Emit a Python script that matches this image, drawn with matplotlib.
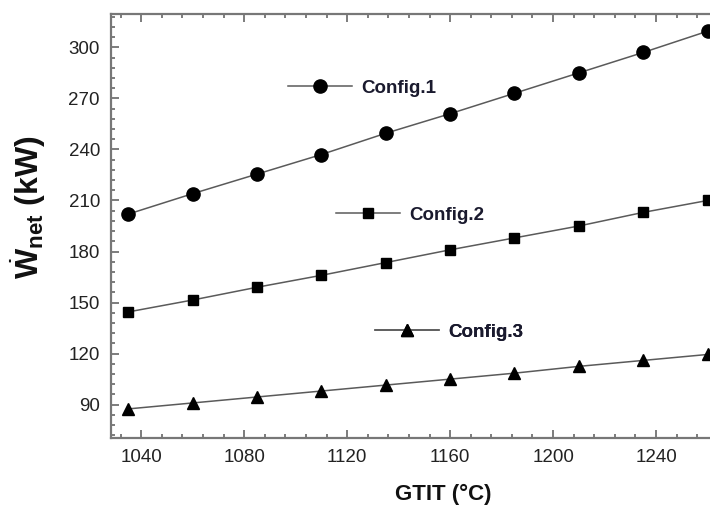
import matplotlib
matplotlib.use("Agg")
import matplotlib.pyplot as plt
from matplotlib.ticker import MultipleLocator
import numpy as np

plt.rcParams['font.family'] = ['Liberation Sans', 'DejaVu Sans']
plt.rcParams['mathtext.fontset'] = 'custom'
plt.rcParams['mathtext.rm'] = 'Liberation Sans'
plt.rcParams['mathtext.bf'] = 'Liberation Sans:bold'

# GTIT (°C)
gtit = [1035, 1060, 1085, 1110, 1135, 1160, 1185, 1210, 1235, 1260]
# net power (kW)
config1 = [202, 214, 225.5, 237, 249.5, 261, 273, 285, 297, 309.5]
config2 = [144.5, 151.5, 159, 166, 173.5, 181, 188, 195, 203, 210]
config3 = [87.5, 91, 94.5, 98, 101.5, 105, 108.5, 112.5, 116, 119.5]
labels = ['Config.1', 'Config.2', 'Config.3']

fig = plt.figure(figsize=(7.1, 5.08), dpi=100)
ax = fig.add_axes([111/710, 70/508, 628/710, 424/508])

line_col = '#5a5a5a'
l1, = ax.plot(gtit, config1, '-o', color=line_col, lw=1.1, mfc='k', mec='k', ms=9.5, clip_on=False)
l2, = ax.plot(gtit, config2, '-s', color=line_col, lw=1.1, mfc='k', mec='k', ms=7.5, clip_on=False)
l3, = ax.plot(gtit, config3, '-^', color=line_col, lw=1.1, mfc='k', mec='k', ms=9, clip_on=False)

ax.set_xlim(1028.3, 1272.2)
ax.set_ylim(70.4, 319.6)
ax.xaxis.set_major_locator(MultipleLocator(40))
ax.xaxis.set_minor_locator(MultipleLocator(8))
ax.yaxis.set_major_locator(MultipleLocator(30))
ax.yaxis.set_minor_locator(MultipleLocator(6))
ax.tick_params(which='both', direction='in', top=True, right=True, colors='#666666',
               labelcolor='#222222', labelsize=13.5, width=1.2)
ax.tick_params(which='major', length=6, pad=8)
ax.tick_params(which='minor', length=3)
for s in ax.spines.values():
    s.set_color('#777777')
    s.set_linewidth(1.6)

ax.set_xlabel('GTIT (°C)', fontsize=16, fontweight='bold', color='#111111')
ax.xaxis.set_label_coords(0.529, -0.108)
ax.set_ylabel(r'$\dot{\mathbf{W}}_{\mathbf{net}}$ (kW)', fontsize=23, fontweight='bold', color='#111111')
ax.yaxis.set_label_coords(-0.100, 0.545)

# inline labels
pos = [(0.282, 0.8255), (0.358, 0.526), (0.420, 0.25)]
for h, lab, p in zip([l1, l2, l3], labels, pos):
    leg = ax.legend(handles=[h], labels=[lab], loc='center left', bbox_to_anchor=p,
                    frameon=False, borderpad=0, borderaxespad=0, handlelength=3.4,
                    handletextpad=0.5, prop={'size': 13.5, 'weight': 'bold'}, labelcolor='#1a1a2e')
    ax.add_artist(leg)

fig.savefig('out.png', dpi=100)
